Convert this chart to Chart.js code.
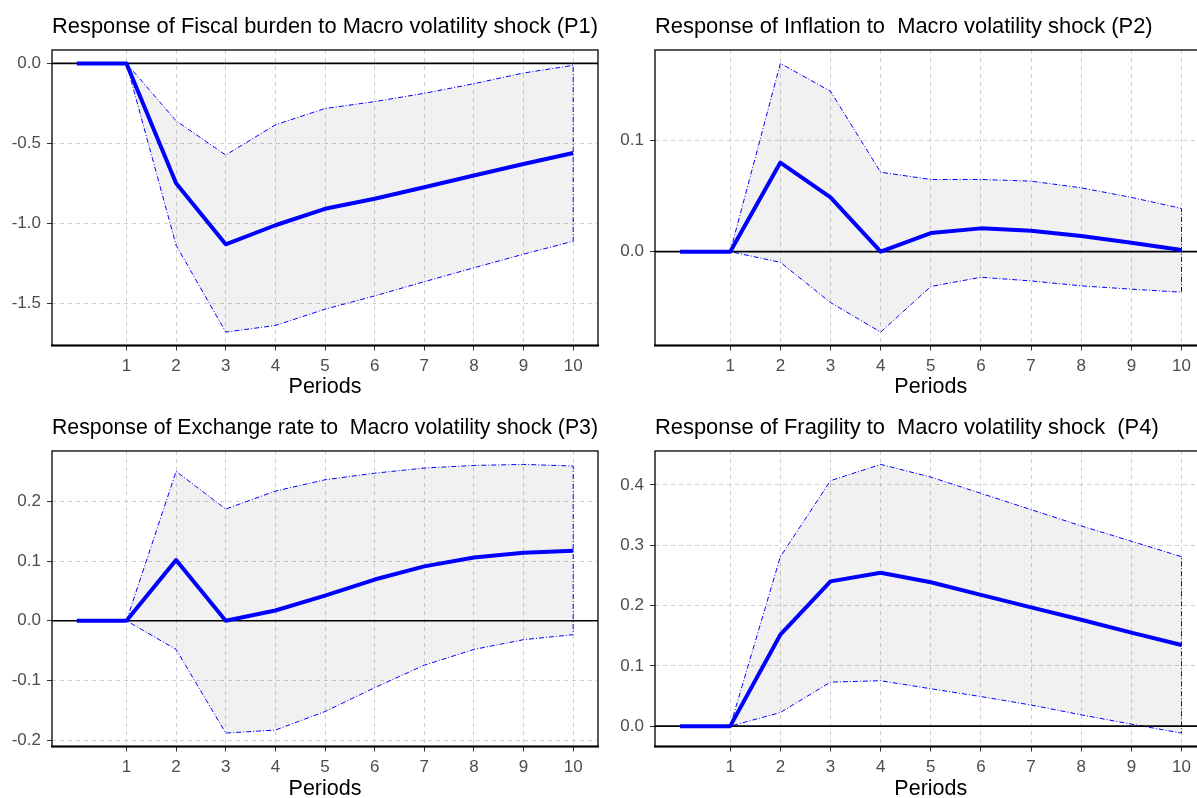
<!DOCTYPE html>
<html><head><meta charset="utf-8">
<script src="https://cdn.jsdelivr.net/npm/chart.js@4.4.1/dist/chart.umd.min.js"></script>
<style>
html,body{margin:0;padding:0;background:#fff;}
#wrap{position:relative;width:1197px;height:798px;overflow:hidden;background:#fff;}
canvas{position:absolute;}
</style></head><body>
<div id="wrap">
<canvas id="c1" width="603" height="403" style="left:0;top:0"></canvas>
<canvas id="c2" width="610" height="403" style="left:603px;top:0"></canvas>
<canvas id="c3" width="603" height="403" style="left:0;top:401px"></canvas>
<canvas id="c4" width="610" height="403" style="left:603px;top:401px"></canvas>
</div>
<script>
const periods = [0,1,2,3,4,5,6,7,8,9,10];
const xTicks = [1,2,3,4,5,6,7,8,9,10];
const xTickLabels = ['1','2','3','4','5','6','7','8','9','10'];
const xTitle = 'Periods';

// P1 Fiscal burden
const fiscalTitle = 'Response of Fiscal burden to Macro volatility shock (P1)';
const fiscalIrf   = [0,0,-0.749,-1.131,-1.012,-0.909,-0.846,-0.774,-0.701,-0.629,-0.560];
const fiscalUpper = [0,0,-0.359,-0.573,-0.384,-0.282,-0.239,-0.187,-0.127,-0.060,-0.012];
const fiscalLower = [0,0,-1.137,-1.680,-1.639,-1.537,-1.454,-1.365,-1.278,-1.193,-1.112];
const fiscalYTicks = [-1.5,-1.0,-0.5,0.0];
const fiscalYLabels = ['-1.5','-1.0','-0.5','0.0'];

// P2 Inflation
const inflTitle = 'Response of Inflation to  Macro volatility shock (P2)';
const inflIrf   = [0,0,0.080,0.0487,0.0,0.0167,0.0209,0.0188,0.014,0.008,0.0015];
const inflUpper = [0,0,0.169,0.144,0.0713,0.0648,0.0648,0.0633,0.0573,0.0487,0.0388];
const inflLower = [0,0,-0.0096,-0.0457,-0.0722,-0.0313,-0.023,-0.0263,-0.0307,-0.0337,-0.0364];
const inflYTicks = [0.0,0.1];
const inflYLabels = ['0.0','0.1'];

// P3 Exchange rate
const exchTitle = 'Response of Exchange rate to  Macro volatility shock (P3)';
const exchIrf   = [0,0,0.1017,0.0,0.0172,0.042,0.069,0.091,0.106,0.114,0.117];
const exchUpper = [0,0,0.250,0.187,0.217,0.236,0.247,0.2556,0.260,0.2617,0.259];
const exchLower = [0,0,-0.048,-0.188,-0.183,-0.152,-0.112,-0.0744,-0.048,-0.0317,-0.0233];
const exchYTicks = [-0.2,-0.1,0.0,0.1,0.2];
const exchYLabels = ['-0.2','-0.1','0.0','0.1','0.2'];

// P4 Fragility
const fragTitle = 'Response of Fragility to  Macro volatility shock  (P4)';
const fragIrf   = [0,0,0.1516,0.240,0.2544,0.2385,0.2176,0.197,0.1764,0.155,0.1346];
const fragUpper = [0,0,0.281,0.407,0.434,0.413,0.386,0.359,0.332,0.3066,0.281];
const fragLower = [0,0,0.0225,0.073,0.0753,0.062,0.049,0.035,0.0187,0.0033,-0.0115];
const fragYTicks = [0.0,0.1,0.2,0.3,0.4];
const fragYLabels = ['0.0','0.1','0.2','0.3','0.4'];

const FONT = "'Liberation Sans', Arial, Helvetica, sans-serif";

const framePlugin = {
  id: 'frame',
  afterDraw(chart) {
    const {ctx, chartArea: a} = chart;
    ctx.save();
    ctx.strokeStyle = '#000';
    ctx.lineWidth = 1.3;
    ctx.strokeRect(a.left, a.top, a.right - a.left, a.bottom - a.top);
    ctx.lineWidth = 2.2;
    ctx.beginPath();
    ctx.moveTo(a.left - 1, a.bottom);
    ctx.lineTo(a.right + 1, a.bottom);
    ctx.stroke();
    ctx.restore();
  }
};
const zeroPlugin = {
  id: 'zeroLine',
  afterDatasetDraw(chart, args) {
    if (args.index !== 1) return;
    const {ctx, chartArea: a} = chart;
    const y = chart.scales.y.getPixelForValue(0);
    ctx.save();
    ctx.strokeStyle = '#000';
    ctx.lineWidth = 1.7;
    ctx.beginPath();
    ctx.moveTo(a.left, y);
    ctx.lineTo(a.right, y);
    ctx.stroke();
    ctx.restore();
  }
};

function expandRange(vals) {
  const mn = Math.min(...vals), mx = Math.max(...vals);
  const d = (mx - mn) * 0.05;
  return [mn - d, mx + d];
}

function makePanel(id, title, irf, upper, lower, yTicks, yLabels, padRight, titlePadBottom) {
  const [ymin, ymax] = expandRange(upper.concat(lower, irf));
  const [xmin, xmax] = expandRange(periods);
  const band = upper.map((v, i) => ({x: periods[i], y: v}))
    .concat(lower.map((v, i) => ({x: periods[i], y: v})).reverse());
  new Chart(document.getElementById(id), {
    type: 'line',
    data: {
      datasets: [
        {
          data: irf.map((v, i) => ({x: periods[i], y: v})),
          borderColor: '#0000ff', borderWidth: 4, pointRadius: 0,
          fill: false, tension: 0, order: 0, borderJoinStyle: 'round'
        },
        {
          data: band,
          borderColor: '#0000ff', borderWidth: 1, pointRadius: 0,
          borderDash: [5, 2, 1, 2],
          backgroundColor: 'rgba(0,0,0,0.055)',
          fill: 'shape', tension: 0, order: 1
        }
      ]
    },
    options: {
      responsive: false, animation: false, devicePixelRatio: 1,
      layout: {padding: {left: 0, right: padRight, top: 0, bottom: 0}},
      plugins: {
        legend: {display: false}, tooltip: {enabled: false},
        title: {
          display: true, text: title, align: 'start', fullSize: false,
          color: '#000', font: {family: FONT, size: 21.9, weight: 'normal', lineHeight: 1.2},
          padding: {top: 13.8, bottom: 9.9}
        }
      },
      scales: {
        x: {
          type: 'linear', min: xmin, max: xmax,
          afterBuildTicks: s => { s.ticks = xTicks.map(v => ({value: v})); },
          afterFit: s => { s.height = 57.5; },
          ticks: {
            autoSkip: false, maxRotation: 0, padding: 6, color: '#4d4d4d',
            font: {family: FONT, size: 17},
            callback: (v, i) => xTickLabels[i]
          },
          grid: {color: '#cfcfcf', lineWidth: 1, tickLength: 5, tickColor: '#333', tickWidth: 1, drawTicks: true},
          border: {display: false, dash: [4, 4]},
          title: {display: true, text: xTitle, color: '#000', font: {family: FONT, size: 21.5}, padding: {top: 0, bottom: titlePadBottom}}
        },
        y: {
          type: 'linear', min: ymin, max: ymax,
          afterBuildTicks: s => { s.ticks = yTicks.map(v => ({value: v})); },
          afterFit: s => { s.width = 52; },
          ticks: {
            padding: 6, color: '#4d4d4d', font: {family: FONT, size: 17},
            callback: (v, i) => yLabels[i]
          },
          grid: {color: '#cfcfcf', lineWidth: 1, tickLength: 5, tickColor: '#333', tickWidth: 1},
          border: {display: false, dash: [4, 4]}
        }
      }
    },
    plugins: [zeroPlugin, framePlugin]
  });
}

makePanel('c1', fiscalTitle, fiscalIrf, fiscalUpper, fiscalLower, fiscalYTicks, fiscalYLabels, 5, 2.6);
makePanel('c2', inflTitle, inflIrf, inflUpper, inflLower, inflYTicks, inflYLabels, 6.4, 2.6);
makePanel('c3', exchTitle, exchIrf, exchUpper, exchLower, exchYTicks, exchYLabels, 5, 1.6);
makePanel('c4', fragTitle, fragIrf, fragUpper, fragLower, fragYTicks, fragYLabels, 6.4, 1.6);
</script>
</body></html>
